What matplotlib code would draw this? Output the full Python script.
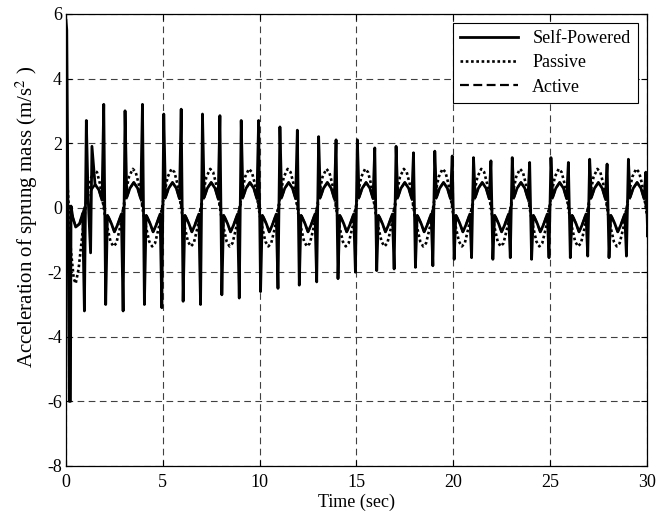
import matplotlib
matplotlib.use("Agg")
import matplotlib.pyplot as plt
import numpy as np

plt.rcParams['font.family'] = ['Liberation Serif', 'DejaVu Serif']
plt.rcParams['mathtext.fontset'] = 'stix'
plt.rcParams['font.size'] = 13
plt.rcParams['axes.unicode_minus'] = False

# spikes of the self-powered curve, one pair at each whole second
spike_sec = list(range(1, 31))
spike_up = [2.7, 3.2, 3.0, 3.2, 2.9, 3.05, 2.9, 2.85, 2.7, 2.7,
            2.5, 2.4, 2.2, 2.1, 2.1, 1.85, 1.9, 1.7, 1.75, 1.6,
            1.55, 1.45, 1.55, 1.4, 1.55, 1.4, 1.5, 1.35, 1.5, 1.1]
spike_dn = [-3.2, -3.0, -3.2, -3.0, -3.1, -2.9, -3.0, -2.7, -2.8, -2.6,
            -2.5, -2.4, -2.3, -2.2, -2.0, -1.95, -1.9, -1.85, -1.8, -1.6,
            -1.55, -1.6, -1.55, -1.6, -1.55, -1.55, -1.5, -1.55, -1.5, -0.9]

# start of the run (0-2 s)
start_self_t = [0.0, 0.04, 0.17, 0.23, 0.26]
start_self_v = [5.8, 5.5, -6.0, -6.0, 0.05]
start_active_t = [0.0, 0.2, 0.35, 0.5, 0.7, 0.85, 1.0, 1.2, 1.5, 1.7, 1.85]
start_active_v = [0.0, 0.05, -0.3, -0.6, -0.5, -0.2, 0.1, 0.45, 0.72, 0.55, 0.25]
start_passive_t = [0.0, 0.1, 0.25, 0.4, 0.5, 0.65, 0.85, 1.05, 1.25, 1.45, 1.6, 1.75, 1.9]
start_passive_v = [1.2, 0.5, -1.3, -2.2, -2.35, -1.9, -0.8, 0.2, 0.85, 1.15, 1.1, 0.75, 0.2]
extra_t = [1.27, 1.34]
extra_v = [-1.4, 1.9]

# steady 2 s cycle (from 2 s on)
cycle_t = [0.0, 0.1, 0.2, 0.35, 0.5, 0.65, 0.8, 0.95, 1.1, 1.3, 1.5, 1.7, 1.85]
cycle_active = [-0.05, -0.2, -0.3, -0.5, -0.75, -0.55, -0.3, -0.05, 0.25, 0.6, 0.78, 0.6, 0.3]
cycle_passive_t = [0.0, 0.15, 0.3, 0.45, 0.6, 0.8, 0.95, 1.1, 1.25, 1.45, 1.6, 1.75, 1.9]
cycle_passive = [-0.2, -0.65, -1.05, -1.2, -1.1, -0.6, -0.05, 0.5, 0.95, 1.2, 1.1, 0.75, 0.2]
n_cycles = 14


def steady(t0, tv, vv):
    t = list(t0[0])
    v = list(t0[1])
    for k in range(1, n_cycles + 1):
        t += [2 * k + x for x in tv]
        v += list(vv)
    t.append(30.0)
    v.append(vv[0])
    return np.array(t), np.array(v)


act_t, act_v = steady((start_active_t, start_active_v), cycle_t, cycle_active)
pas_t, pas_v = steady((start_passive_t, start_passive_v), cycle_passive_t, cycle_passive)

# self-powered: base wave plus spike pairs
w_in, w_out = 0.05, 0.14
keep = act_t > 0.3
for n in spike_sec:
    keep &= np.abs(act_t - n) > w_out + 0.01
keep &= np.abs(act_t - 1.3) > w_out
pts = list(zip(act_t[keep], act_v[keep]))
pts += list(zip(start_self_t, start_self_v))
for n, up, dn in zip(spike_sec, spike_up, spike_dn):
    first, second = (dn, up) if n % 2 else (up, dn)
    pts += [(n - w_out, np.interp(n - w_out, act_t, act_v)), (n - w_in, first),
            (n + w_in, second), (n + w_out, np.interp(n + w_out, act_t, act_v))]
pts += [(extra_t[0], extra_v[0]), (extra_t[1], extra_v[1])]
pts.sort()
self_t = np.array([p[0] for p in pts])
self_v = np.array([p[1] for p in pts])

fig = plt.figure(figsize=(6.62, 5.16), dpi=100)
ax = fig.add_axes([0.0997, 0.097, 0.8773, 0.876])

ax.plot(self_t, self_v, color='black', lw=2.0, ls='-', label='Self-Powered')
ax.plot(pas_t, pas_v, color='black', lw=1.9, ls=(0, (1, 1)), label='Passive')
ax.plot(act_t, act_v, color='black', lw=1.6, ls=(0, (4, 2)), label='Active')

ax.set_xlim(0, 30)
ax.set_ylim(-8, 6)
ax.set_xticks(range(0, 31, 5))
ax.set_yticks(range(-8, 7, 2))
ax.grid(True, color='#404040', lw=0.8, ls=(0, (6, 4)))
ax.tick_params(direction='in', top=True, right=True, length=4, width=0.8)
ax.tick_params(axis='x', pad=6)
ax.tick_params(axis='y', pad=3)
for s in ax.spines.values():
    s.set_linewidth(0.9)

ax.set_xlabel('Time (sec)', labelpad=2)
ax.set_ylabel('Acceleration of sprung mass (m/s$^{2}$ )', fontsize=15)
ax.yaxis.set_label_coords(-0.045, 0.55)

leg = ax.legend(loc='upper right', fancybox=False, framealpha=1, edgecolor='black',
                handlelength=3.2, borderaxespad=0.5, labelspacing=0.4)
leg.get_frame().set_linewidth(0.8)

fig.savefig('out.png', dpi=100)
